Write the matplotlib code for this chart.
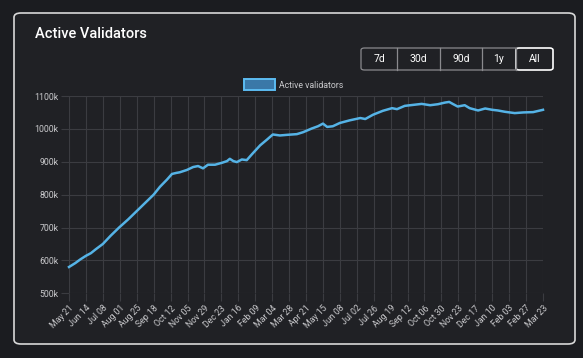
import matplotlib.pyplot as plt
from matplotlib.patches import FancyBboxPatch, Rectangle

# days since May 21 and active validators (thousands)
days = [0, 9, 16, 24, 31, 38, 48, 59, 71, 84, 96, 108, 120, 129, 139, 146, 152,
        157, 167, 176, 183, 190, 197, 207, 217, 224, 228, 233, 238, 245, 252,
        259, 271, 281, 289, 299, 310, 323, 332, 344, 353, 360, 366, 374, 384,
        398, 413, 420, 431, 445, 458, 465, 476, 488, 500, 512, 523, 533, 539,
        544, 551, 561, 568, 580, 590, 600, 608, 618, 632, 644, 658, 672]
validators = [580, 592, 603, 614, 622, 634, 650, 675, 700, 725, 750, 775, 800,
              824, 846, 863, 866, 868, 875, 884, 887, 880, 891, 891, 897, 902,
              909, 902, 899, 907, 905, 922, 950, 968, 983, 980, 982, 984, 990,
              1001, 1008, 1016, 1006, 1008, 1018, 1026, 1033, 1030, 1043, 1055,
              1063, 1060, 1070, 1073, 1076, 1072, 1075, 1080, 1082, 1076, 1068,
              1072, 1063, 1056, 1062, 1058, 1056, 1052, 1048, 1050, 1051, 1058]

tick_labels = ["May 21", "Jun 14", "Jul 08", "Aug 01", "Aug 25", "Sep 18",
               "Oct 12", "Nov 05", "Nov 29", "Dec 23", "Jan 16", "Feb 09",
               "Mar 04", "Mar 28", "Apr 21", "May 15", "Jun 08", "Jul 02",
               "Jul 26", "Aug 19", "Sep 12", "Oct 06", "Oct 30", "Nov 23",
               "Dec 17", "Jan 10", "Feb 03", "Feb 27", "Mar 23"]
y_ticks = [500, 600, 700, 800, 900, 1000, 1100]
buttons = ["7d", "30d", "90d", "1y", "All"]

W, H = 583, 358
BG = "#1b1c20"
CARD = "#202125"
GRID = "#3b3c41"
TEXT = "#c9c9cc"
LINE = "#55b3e6"

plt.rcParams['font.family'] = ['Roboto', 'DejaVu Sans']


def fx(x):
    return x / W


def fy(y):
    return 1 - y / H


def main():
    fig = plt.figure(figsize=(W / 100, H / 100), dpi=100, facecolor=BG)

    card = FancyBboxPatch((fx(14), fy(344)), fx(575) - fx(14), fy(13) - fy(344),
                          boxstyle="round,pad=0,rounding_size=0.012",
                          transform=fig.transFigure, facecolor=CARD,
                          edgecolor="#d8d8d8", linewidth=1.2, zorder=-10)
    fig.patches.append(card)
    fig.text(fx(35), fy(34), "Active Validators", color="white", fontsize=10.5,
             fontweight="medium", va="center", ha="left")

    # range buttons
    edges = [361, 397, 440, 482, 516, 553]
    group = FancyBboxPatch((fx(361), fy(70)), fx(553) - fx(361), fy(48) - fy(70),
                           boxstyle="round,pad=0,rounding_size=0.006",
                           transform=fig.transFigure, facecolor=CARD,
                           edgecolor="#8a8a8e", linewidth=0.9)
    fig.patches.append(group)
    for i, label in enumerate(buttons):
        if 0 < i:
            fig.add_artist(plt.Line2D([fx(edges[i])] * 2, [fy(70), fy(48)],
                                      transform=fig.transFigure,
                                      color="#8a8a8e", linewidth=0.9))
        fig.text(fx((edges[i] + edges[i + 1]) / 2), fy(59.5), label,
                 color="white", fontsize=7.5, ha="center", va="center")
    sel = FancyBboxPatch((fx(516), fy(70)), fx(553) - fx(516), fy(48) - fy(70),
                         boxstyle="round,pad=0,rounding_size=0.006",
                         transform=fig.transFigure, facecolor="none",
                         edgecolor="white", linewidth=1.1)
    fig.patches.append(sel)

    # legend
    fig.patches.append(Rectangle((fx(244), fy(90)), fx(275) - fx(244),
                                 fy(79) - fy(90), transform=fig.transFigure,
                                 facecolor="#3a78a8", edgecolor="#5cbcf2",
                                 linewidth=1.4))
    fig.text(fx(279), fy(85), "Active validators", color=TEXT, fontsize=6.3,
             ha="left", va="center")

    ax = fig.add_axes([fx(69), fy(293.3), fx(543) - fx(69), fy(96) - fy(293.3)])
    ax.set_zorder(5)
    ax.set_facecolor("none")
    ax.plot(days, validators, color=LINE, linewidth=1.8, solid_joinstyle="round",
            clip_on=False)

    ax.set_xlim(0, 672)
    ax.set_ylim(500, 1100)
    ax.set_xticks(range(0, 673, 24))
    ax.set_xticklabels(tick_labels, rotation=45, ha="right",
                       rotation_mode="anchor")
    ax.set_yticks(y_ticks)
    ax.set_yticklabels([f"{v}k" for v in y_ticks])
    ax.tick_params(colors=GRID, labelcolor=TEXT, labelsize=6.3, length=5.5,
                   width=0.8, pad=2)
    ax.grid(True, color=GRID, linewidth=0.8)
    ax.set_axisbelow(True)
    for s in ax.spines.values():
        s.set_visible(False)

    fig.savefig("out.png", dpi=100, facecolor=BG)


if __name__ == "__main__":
    main()
